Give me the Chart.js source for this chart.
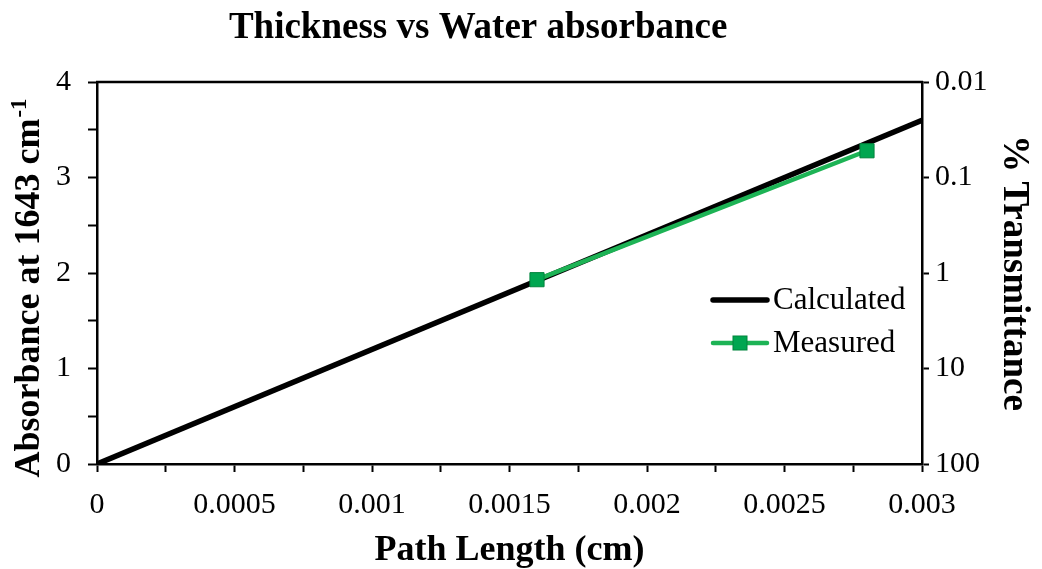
<!DOCTYPE html>
<html>
<head>
<meta charset="utf-8">
<title>Thickness vs Water absorbance</title>
<script src="https://cdn.jsdelivr.net/npm/chart.js@4.4.1/dist/chart.umd.min.js"></script>
<style>
  html, body { margin: 0; padding: 0; background: #ffffff; }
  canvas { display: block; }
</style>
</head>
<body>
<canvas id="chart" width="1042" height="569"></canvas>
<script>
// Calculated absorbance (Beer-Lambert line) against path length
const calcPath = [0, 0.003];
const calcAbs = [0, 3.6];

// Measured absorbance at 1643 cm-1
const measPath = [0.0016, 0.0028];
const measAbs = [1.93, 3.28];

// Axis ticks
const xTickValues = [0, 0.0005, 0.001, 0.0015, 0.002, 0.0025, 0.003];
const xTickLabels = ['0', '0.0005', '0.001', '0.0015', '0.002', '0.0025', '0.003'];
const yTickValues = [0, 1, 2, 3, 4];
const yTickLabels = ['0', '1', '2', '3', '4'];
const tTickLabels = ['100', '10', '1', '0.1', '0.01'];

const SERIF = '"Liberation Serif", "Times New Roman", Times, serif';

// add half-step minor ticks between the labelled ones
function withMinor(values) {
  const out = [];
  for (let i = 0; i < values.length; i++) {
    out.push({ value: values[i], major: true });
    if (i < values.length - 1) out.push({ value: (values[i] + values[i + 1]) / 2 });
  }
  return out;
}
function labelFor(values, labels, v) {
  for (let i = 0; i < values.length; i++) {
    if (Math.abs(values[i] - v) < 1e-9) return labels[i];
  }
  return '';
}

// closes the plot box along its top edge
const framePlugin = {
  id: 'frame',
  afterDatasetsDraw(chart) {
    const { ctx, chartArea: a } = chart;
    ctx.save();
    ctx.strokeStyle = '#000';
    ctx.lineWidth = 2.5;
    ctx.beginPath();
    ctx.moveTo(a.left - 1, a.top);
    ctx.lineTo(a.right + 1, a.top);
    ctx.stroke();
    ctx.restore();
  }
};

// chart title and the left axis title (with superscript unit)
const titlesPlugin = {
  id: 'titles',
  afterDraw(chart) {
    const { ctx, chartArea: a } = chart;
    ctx.save();
    ctx.fillStyle = '#000';
    ctx.font = 'bold 37px ' + SERIF;
    ctx.textAlign = 'center';
    ctx.textBaseline = 'alphabetic';
    ctx.fillText('Thickness vs Water absorbance', a.left + (a.right - a.left) * 0.462, 38);

    const main = 'Absorbance at 1643 cm';
    const sup = '-1';
    const mainFont = 'bold 36px ' + SERIF;
    const supFont = 'bold 23px ' + SERIF;
    ctx.font = mainFont;
    const wMain = ctx.measureText(main).width;
    ctx.font = supFont;
    const wSup = ctx.measureText(sup).width;
    const total = wMain + wSup + 1;
    const cy = (a.top + a.bottom) / 2 + 15;
    ctx.translate(39, cy);
    ctx.rotate(-Math.PI / 2);
    ctx.textAlign = 'left';
    ctx.font = mainFont;
    ctx.fillText(main, -total / 2, 0);
    ctx.font = supFont;
    ctx.fillText(sup, -total / 2 + wMain + 1, -13);
    ctx.restore();
  }
};

// legend placed inside the plot area
const legendPlugin = {
  id: 'innerLegend',
  afterDraw(chart) {
    const { ctx, chartArea: a } = chart;
    const x0 = a.right - 209;
    const lineLen = 54;
    const rows = [a.top + 218, a.top + 261];
    ctx.save();
    ctx.font = '31px ' + SERIF;
    ctx.textBaseline = 'middle';
    ctx.textAlign = 'left';
    chart.data.datasets.forEach((ds, i) => {
      const y = rows[i];
      ctx.strokeStyle = ds.borderColor;
      ctx.lineWidth = ds.borderWidth;
      ctx.lineCap = 'round';
      ctx.beginPath();
      ctx.moveTo(x0, y);
      ctx.lineTo(x0 + lineLen, y);
      ctx.stroke();
      if (ds.pointRadius > 0) {
        const s = 14;
        ctx.fillStyle = ds.pointBackgroundColor;
        ctx.strokeStyle = ds.pointBorderColor;
        ctx.lineWidth = 1;
        ctx.fillRect(x0 + lineLen / 2 - s / 2, y - s / 2, s, s);
        ctx.strokeRect(x0 + lineLen / 2 - s / 2, y - s / 2, s, s);
      }
      ctx.fillStyle = '#000';
      ctx.fillText(ds.label, x0 + lineLen + 6, y + 1);
    });
    ctx.restore();
  }
};

new Chart(document.getElementById('chart'), {
  type: 'scatter',
  data: {
    datasets: [
      {
        label: 'Calculated',
        data: calcPath.map((x, i) => ({ x, y: calcAbs[i] })),
        showLine: true,
        borderColor: '#000000',
        backgroundColor: '#000000',
        borderWidth: 5.5,
        pointRadius: 0,
        yAxisID: 'y',
        order: 2
      },
      {
        label: 'Measured',
        data: measPath.map((x, i) => ({ x, y: measAbs[i] })),
        showLine: true,
        borderColor: '#1db355',
        backgroundColor: '#00a650',
        borderWidth: 4.5,
        pointStyle: 'rect',
        pointRadius: 10,
        pointBackgroundColor: '#00a650',
        pointBorderColor: '#00843d',
        pointBorderWidth: 1,
        yAxisID: 'y',
        order: 1
      }
    ]
  },
  options: {
    responsive: false,
    devicePixelRatio: 1,
    animation: false,
    layout: { padding: { top: 82, left: 0, right: 0, bottom: 0 } },
    plugins: {
      legend: { display: false },
      title: { display: false },
      tooltip: { enabled: false }
    },
    scales: {
      x: {
        type: 'linear',
        position: 'bottom',
        min: 0,
        max: 0.003,
        afterBuildTicks(scale) { scale.ticks = withMinor(xTickValues); },
        afterFit(scale) { scale.height = 105; },
        ticks: {
          autoSkip: false,
          maxRotation: 0,
          color: '#000',
          padding: 15,
          font: { family: SERIF, size: 30 },
          callback: (v) => labelFor(xTickValues, xTickLabels, v)
        },
        grid: {
          drawOnChartArea: false,
          drawTicks: true,
          tickLength: 8,
          tickWidth: 2,
          tickColor: '#000'
        },
        border: { display: true, color: '#000', width: 2.5 },
        title: {
          display: true,
          text: 'Path Length (cm)',
          color: '#000',
          font: { family: SERIF, size: 36, weight: 'bold' },
          padding: { top: 0, bottom: -3 }
        }
      },
      y: {
        type: 'linear',
        position: 'left',
        min: 0,
        max: 4,
        afterBuildTicks(scale) { scale.ticks = withMinor(yTickValues); },
        afterFit(scale) { scale.width = 97; },
        ticks: {
          autoSkip: false,
          color: '#000',
          padding: 17,
          font: { family: SERIF, size: 30 },
          callback: (v) => labelFor(yTickValues, yTickLabels, v)
        },
        grid: {
          drawOnChartArea: false,
          drawTicks: true,
          tickLength: 9,
          tickWidth: 2,
          tickColor: '#000'
        },
        border: { display: true, color: '#000', width: 2.5 },
        title: { display: false }
      },
      t: {
        type: 'linear',
        position: 'right',
        min: 0,
        max: 4,
        afterBuildTicks(scale) { scale.ticks = yTickValues.map(v => ({ value: v })); },
        afterFit(scale) { scale.width = 120; },
        ticks: {
          autoSkip: false,
          color: '#000',
          padding: 6,
          font: { family: SERIF, size: 30 },
          callback: (v) => labelFor(yTickValues, tTickLabels, v)
        },
        grid: {
          drawOnChartArea: false,
          drawTicks: true,
          tickLength: 7,
          tickWidth: 2,
          tickColor: '#000'
        },
        border: { display: true, color: '#000', width: 2.5 },
        title: {
          display: true,
          text: '% Transmittance',
          color: '#000',
          font: { family: SERIF, size: 37, weight: 'bold' },
          padding: { top: 6, bottom: 0 }
        }
      }
    }
  },
  plugins: [framePlugin, titlesPlugin, legendPlugin]
});
</script>
</body>
</html>
